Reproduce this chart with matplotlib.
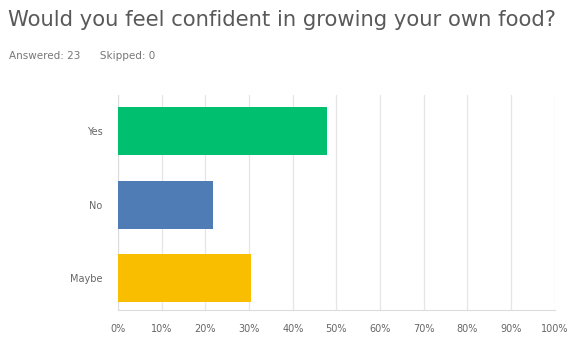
import matplotlib.pyplot as plt
import numpy as np

CATEGORIES = ['Yes', 'No', 'Maybe']
PERCENTS = [47.83, 21.74, 30.43]
COLORS = ['#00bf6f', '#507cb6', '#f9be00']
X_TICKS = [0, 10, 20, 30, 40, 50, 60, 70, 80, 90, 100]

TITLE = 'Would you feel confident in growing your own food?'
SUBTITLE = 'Answered: 23      Skipped: 0'

fig = plt.figure(figsize=(5.71, 3.37), dpi=100)
ax = fig.add_axes([0.2067, 0.080, 0.765, 0.638])

y = np.arange(len(CATEGORIES))
ax.barh(y, PERCENTS, height=0.65, color=COLORS, zorder=3)

ax.set_xlim(0, 100)
ax.set_ylim(2.43, -0.49)
ax.set_xticks(X_TICKS)
ax.set_xticklabels([f'{t}%' for t in X_TICKS])
ax.set_yticks(y)
ax.set_yticklabels(CATEGORIES)

ax.grid(axis='x', color='#e6e6e6', linewidth=0.9, zorder=0)
for side in ['top', 'right']:
    ax.spines[side].set_visible(False)
ax.spines['left'].set_color('#dcdcdc')
ax.spines['bottom'].set_color('#dcdcdc')
ax.tick_params(axis='both', length=0, labelsize=7, colors='#666666')
ax.tick_params(axis='x', pad=10)
ax.tick_params(axis='y', pad=11)

fig.text(0.014, 0.94, TITLE, fontsize=15.2, color='#595959', ha='left', va='center')
fig.text(0.016, 0.835, SUBTITLE, fontsize=7.5, color='#777777', ha='left', va='center')

fig.savefig('out.png', dpi=100)
